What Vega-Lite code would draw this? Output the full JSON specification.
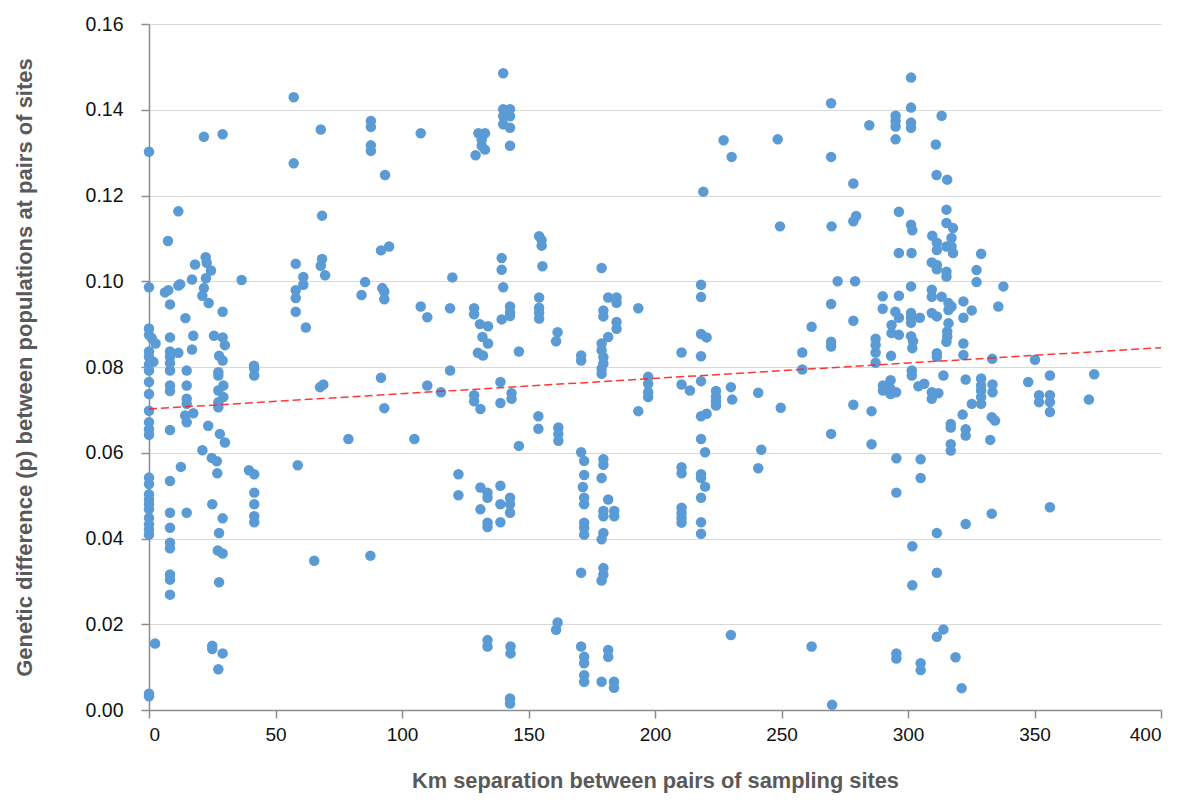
{
  "$schema": "https://vega.github.io/schema/vega-lite/v6.json",
  "width": 1012,
  "height": 686,
  "autosize": {"type": "none"},
  "padding": {"left": 149, "top": 24, "right": 21, "bottom": 92},
  "background": "white",
  "config": {"view": {"stroke": null}},
  "datasets": {
    "trend": [{"km": 0, "p": 0.0702}, {"km": 400, "p": 0.0845}],
    "pts": [
      {"km":0,"p":0.1302},{"km":21.7,"p":0.1337},{"km":29.1,"p":0.1343},{"km":57.2,"p":0.1429},{"km":57.2,"p":0.1275},{"km":67.9,"p":0.1354},{"km":87.7,"p":0.1374},{"km":87.7,"p":0.136},{"km":87.7,"p":0.1317},{"km":87.7,"p":0.1304},{"km":93.3,"p":0.1248},{"km":11.6,"p":0.1163},{"km":7.5,"p":0.1094},{"km":68.4,"p":0.1153},{"km":22.4,"p":0.1056},{"km":22.8,"p":0.1043},{"km":24.5,"p":0.1025},{"km":22.5,"p":0.1007},{"km":18.2,"p":0.1039},{"km":17,"p":0.1004},{"km":21.7,"p":0.0984},{"km":21.1,"p":0.0966},{"km":23.6,"p":0.0949},{"km":29.1,"p":0.0929},{"km":36.6,"p":0.1003},{"km":0,"p":0.0986},{"km":6.3,"p":0.0974},{"km":7.6,"p":0.0979},{"km":11.6,"p":0.099},{"km":12.3,"p":0.0993},{"km":8.3,"p":0.0946},{"km":14.4,"p":0.0914},{"km":0,"p":0.089},{"km":0,"p":0.0875},{"km":1.1,"p":0.0867},{"km":2.6,"p":0.0855},{"km":8.3,"p":0.0869},{"km":17.5,"p":0.0873},{"km":25.7,"p":0.0873},{"km":29.1,"p":0.0869},{"km":30,"p":0.0851},{"km":0,"p":0.0836},{"km":0,"p":0.0824},{"km":1.7,"p":0.0812},{"km":8.3,"p":0.0836},{"km":8.3,"p":0.0824},{"km":8.3,"p":0.0809},{"km":11.6,"p":0.0833},{"km":17,"p":0.0841},{"km":27.7,"p":0.0826},{"km":29.1,"p":0.0815},{"km":41.5,"p":0.0803},
      {"km":58,"p":0.1041},{"km":61,"p":0.101},{"km":61,"p":0.0992},{"km":58,"p":0.0979},{"km":58,"p":0.0961},{"km":58,"p":0.0929},{"km":62,"p":0.0892},{"km":68.4,"p":0.1052},{"km":67.9,"p":0.1036},{"km":69.6,"p":0.1014},{"km":85.4,"p":0.0998},{"km":84,"p":0.0968},{"km":91.7,"p":0.1072},{"km":94.9,"p":0.1081},{"km":92.2,"p":0.0984},{"km":93,"p":0.0976},{"km":93,"p":0.0958},
      {"km":0,"p":0.0806},{"km":0,"p":0.0792},{"km":0,"p":0.0765},{"km":0,"p":0.0737},{"km":0,"p":0.0698},{"km":0,"p":0.0671},{"km":0,"p":0.0655},{"km":0,"p":0.0642},
      {"km":8.3,"p":0.0792},{"km":8.3,"p":0.0757},{"km":8.3,"p":0.0744},{"km":8.3,"p":0.0653},
      {"km":14.9,"p":0.0792},{"km":14.9,"p":0.0757},{"km":14.9,"p":0.0726},{"km":14.9,"p":0.0714},{"km":14.3,"p":0.0687},{"km":17.5,"p":0.0692},{"km":14.9,"p":0.0671},
      {"km":27.4,"p":0.0788},{"km":27.4,"p":0.078},{"km":29.4,"p":0.0757},{"km":27.4,"p":0.0745},{"km":29.4,"p":0.073},{"km":27.4,"p":0.0718},{"km":27.4,"p":0.0706},
      {"km":23.4,"p":0.0663},{"km":28,"p":0.0644},{"km":30,"p":0.0624},{"km":21.1,"p":0.0606},{"km":24.8,"p":0.0588},{"km":26.8,"p":0.058},{"km":27,"p":0.0552},{"km":12.6,"p":0.0567},{"km":8.3,"p":0.0534},
      {"km":0,"p":0.0542},{"km":0,"p":0.0527},{"km":0,"p":0.0503},{"km":0,"p":0.0491},{"km":0,"p":0.048},{"km":0,"p":0.0468},{"km":0,"p":0.0448},{"km":0,"p":0.0433},{"km":0,"p":0.0421},{"km":0,"p":0.0409},
      {"km":8.3,"p":0.046},{"km":8.3,"p":0.0425},{"km":14.9,"p":0.046},{"km":25,"p":0.048},{"km":29.1,"p":0.0447},{"km":27.7,"p":0.0413},{"km":8.3,"p":0.039},{"km":8.3,"p":0.0377},{"km":27.2,"p":0.0372},{"km":29.1,"p":0.0365},
      {"km":8.3,"p":0.0316},{"km":8.3,"p":0.0304},{"km":8.3,"p":0.0269},{"km":27.7,"p":0.0298},{"km":2.4,"p":0.0155},{"km":25,"p":0.015},{"km":25,"p":0.0142},{"km":29.1,"p":0.0132},{"km":27.4,"p":0.0095},{"km":0,"p":0.0038},{"km":0,"p":0.0032},
      {"km":41.6,"p":0.0796},{"km":41.6,"p":0.078},{"km":39.5,"p":0.0559},{"km":41.6,"p":0.055},{"km":41.6,"p":0.0507},{"km":41.6,"p":0.048},{"km":41.6,"p":0.0452},{"km":41.6,"p":0.0438},
      {"km":58.8,"p":0.0571},{"km":65.3,"p":0.0348},{"km":67.6,"p":0.0753},{"km":68.9,"p":0.0759},{"km":78.8,"p":0.0632},{"km":87.5,"p":0.036},{"km":91.7,"p":0.0775},{"km":93,"p":0.0704},
      {"km":140,"p":0.1485},{"km":107.4,"p":0.1345},
      {"km":130.2,"p":0.1345},{"km":132.8,"p":0.1345},{"km":131.5,"p":0.133},{"km":131.5,"p":0.1316},{"km":132.8,"p":0.1307},{"km":129.1,"p":0.1294},
      {"km":140,"p":0.1401},{"km":142.7,"p":0.1401},{"km":140,"p":0.1385},{"km":142.7,"p":0.1385},{"km":140,"p":0.1366},{"km":142.7,"p":0.1358},{"km":142.7,"p":0.1316},
      {"km":154.2,"p":0.1105},{"km":155.2,"p":0.1096},{"km":155.2,"p":0.1083},{"km":155.5,"p":0.1035},{"km":178.9,"p":0.1031},{"km":139.4,"p":0.1054},{"km":139.4,"p":0.1027},{"km":140,"p":0.0986},{"km":119.9,"p":0.1009},
      {"km":107.4,"p":0.0941},{"km":110,"p":0.0916},{"km":119,"p":0.0937},{"km":128.5,"p":0.0937},{"km":128.5,"p":0.0923},
      {"km":130.8,"p":0.09},{"km":134,"p":0.0895},{"km":131.8,"p":0.087},{"km":134,"p":0.0855},{"km":130,"p":0.0833},{"km":132,"p":0.0827},
      {"km":142.7,"p":0.0941},{"km":142.7,"p":0.0927},{"km":139.4,"p":0.0911},{"km":142.7,"p":0.0919},
      {"km":154.2,"p":0.0962},{"km":154.2,"p":0.0938},{"km":154.2,"p":0.0927},{"km":154.2,"p":0.0913},
      {"km":161.5,"p":0.0881},{"km":160.9,"p":0.086},{"km":146.2,"p":0.0836},{"km":170.8,"p":0.0827},{"km":170.8,"p":0.0815},
      {"km":178.9,"p":0.0855},{"km":178.9,"p":0.0839},{"km":179.6,"p":0.0823},{"km":179.6,"p":0.0808},
      {"km":181.5,"p":0.0962},{"km":184.8,"p":0.0962},{"km":184.8,"p":0.095},{"km":179.6,"p":0.0932},{"km":179.6,"p":0.0918},{"km":184.8,"p":0.0905},{"km":184.8,"p":0.0889},{"km":181.5,"p":0.087},
      {"km":193.4,"p":0.0937},{"km":119,"p":0.0792},
      {"km":110,"p":0.0757},{"km":115.4,"p":0.0741},{"km":104.9,"p":0.0632},{"km":128.5,"p":0.0734},{"km":128.5,"p":0.072},{"km":131,"p":0.0702},{"km":138.9,"p":0.0765},{"km":138.9,"p":0.0716},{"km":143.3,"p":0.0739},{"km":143.3,"p":0.0726},{"km":146.2,"p":0.0616},{"km":153.9,"p":0.0685},{"km":153.9,"p":0.0656},{"km":161.8,"p":0.0659},{"km":161.8,"p":0.0644},{"km":161.8,"p":0.0628},
      {"km":170.8,"p":0.0601},{"km":172,"p":0.0581},{"km":172,"p":0.0548},{"km":171.5,"p":0.052},{"km":172,"p":0.0495},{"km":172,"p":0.048},{"km":172,"p":0.0437},{"km":172,"p":0.0425},{"km":172,"p":0.0409},
      {"km":178.9,"p":0.0796},{"km":178.9,"p":0.0784},
      {"km":179.6,"p":0.0585},{"km":179.6,"p":0.0572},{"km":178.9,"p":0.0541},{"km":181.5,"p":0.0491},{"km":179.6,"p":0.0464},{"km":179.6,"p":0.0452},{"km":183.9,"p":0.0464},{"km":183.9,"p":0.0452},{"km":179.6,"p":0.0413},{"km":178.9,"p":0.0398},
      {"km":170.8,"p":0.032},{"km":179.6,"p":0.0331},{"km":179.6,"p":0.0316},{"km":178.9,"p":0.0302},
      {"km":161.5,"p":0.0204},{"km":160.9,"p":0.0187},
      {"km":170.8,"p":0.0148},{"km":172,"p":0.0124},{"km":172,"p":0.0109},{"km":172,"p":0.0081},{"km":172,"p":0.0066},
      {"km":181.5,"p":0.014},{"km":181.5,"p":0.0124},{"km":178.9,"p":0.0066},{"km":183.8,"p":0.0066},{"km":183.8,"p":0.0052},
      {"km":197.3,"p":0.0777},{"km":197.3,"p":0.0761},{"km":197.3,"p":0.0741},{"km":197.3,"p":0.073},{"km":193.4,"p":0.0697},
      {"km":122.3,"p":0.055},{"km":122.3,"p":0.0501},
      {"km":131,"p":0.0519},{"km":133.8,"p":0.0507},{"km":133.8,"p":0.0495},{"km":131,"p":0.0468},{"km":138.9,"p":0.0523},{"km":142.7,"p":0.0495},{"km":142.7,"p":0.048},{"km":142.7,"p":0.046},{"km":138.9,"p":0.048},{"km":133.8,"p":0.0437},{"km":133.8,"p":0.0427},{"km":138.9,"p":0.0438},
      {"km":133.8,"p":0.0163},{"km":133.8,"p":0.0148},{"km":142.9,"p":0.0148},{"km":142.9,"p":0.0132},{"km":142.7,"p":0.0027},{"km":142.7,"p":0.0015},
      {"km":269.6,"p":0.1415},{"km":284.7,"p":0.1364},{"km":295.1,"p":0.1386},{"km":295.1,"p":0.1374},{"km":295.1,"p":0.1361},{"km":295.1,"p":0.1331},{"km":227.1,"p":0.1329},{"km":248.5,"p":0.1331},{"km":230.3,"p":0.129},{"km":269.6,"p":0.129},{"km":278.4,"p":0.1228},{"km":219.1,"p":0.1209},{"km":296.4,"p":0.1162},{"km":249.4,"p":0.1128},{"km":269.8,"p":0.1128},{"km":278.4,"p":0.114},{"km":279.5,"p":0.1152},{"km":296.4,"p":0.1066},{"km":218.2,"p":0.0992},{"km":218.2,"p":0.0963},{"km":272.2,"p":0.1},{"km":279.1,"p":0.1},{"km":269.6,"p":0.0947},{"km":261.9,"p":0.0894},{"km":278.4,"p":0.0908},{"km":218.2,"p":0.0877},{"km":220.4,"p":0.0869},{"km":210.5,"p":0.0834},{"km":218.2,"p":0.0825},{"km":258.2,"p":0.0834},{"km":269.6,"p":0.0859},{"km":269.6,"p":0.0848},{"km":287.2,"p":0.0866},{"km":287.2,"p":0.0851},{"km":287.2,"p":0.0834},{"km":287.2,"p":0.081},{"km":293.3,"p":0.0826},{"km":290,"p":0.0965},{"km":290,"p":0.0936},{"km":296.4,"p":0.0966},{"km":295,"p":0.0929},{"km":296.4,"p":0.0915},{"km":293.5,"p":0.0898},{"km":293.5,"p":0.0879},{"km":296.4,"p":0.0875},{"km":258.2,"p":0.0794},
      {"km":210.5,"p":0.0759},{"km":213.8,"p":0.0745},{"km":218.2,"p":0.0767},{"km":224.1,"p":0.0744},{"km":224.1,"p":0.0731},{"km":224.1,"p":0.072},{"km":224.1,"p":0.071},{"km":230,"p":0.0753},{"km":230.5,"p":0.0724},{"km":218.2,"p":0.0685},{"km":220.4,"p":0.0691},{"km":218.2,"p":0.0632},{"km":219.8,"p":0.0601},{"km":240.8,"p":0.074},{"km":249.7,"p":0.0705},{"km":242,"p":0.0607},{"km":240.8,"p":0.0564},
      {"km":210.5,"p":0.0566},{"km":210.5,"p":0.0552},{"km":218.2,"p":0.055},{"km":218.2,"p":0.0541},{"km":219.8,"p":0.0521},{"km":218.2,"p":0.0495},{"km":210.5,"p":0.0472},{"km":210.5,"p":0.046},{"km":210.5,"p":0.0448},{"km":210.5,"p":0.0437},{"km":218.2,"p":0.0438},{"km":218.2,"p":0.0411},
      {"km":230,"p":0.0175},{"km":261.9,"p":0.0148},{"km":270,"p":0.0012},{"km":269.6,"p":0.0644},{"km":278.4,"p":0.0712},{"km":285.6,"p":0.0697},{"km":285.6,"p":0.062},
      {"km":290.1,"p":0.0757},{"km":293.1,"p":0.0769},{"km":293.1,"p":0.0749},{"km":295.3,"p":0.0741},{"km":290.1,"p":0.0745},{"km":293.1,"p":0.0737},
      {"km":295.4,"p":0.0587},{"km":295.4,"p":0.0507},{"km":295.4,"p":0.0132},{"km":295.4,"p":0.012},
      {"km":301.2,"p":0.1475},{"km":301.2,"p":0.1405},{"km":301.2,"p":0.137},{"km":301.2,"p":0.1358},{"km":313.3,"p":0.1386},{"km":311,"p":0.1319},{"km":311.3,"p":0.1248},{"km":315.5,"p":0.1237},{"km":301.2,"p":0.1132},{"km":301.7,"p":0.1119},
      {"km":315.2,"p":0.1167},{"km":315.2,"p":0.1136},{"km":317.8,"p":0.1124},{"km":317.2,"p":0.1101},{"km":317.2,"p":0.1081},{"km":317.8,"p":0.1066},{"km":315.2,"p":0.1081},
      {"km":309.6,"p":0.1106},{"km":311.4,"p":0.109},{"km":311.4,"p":0.1073},{"km":301.4,"p":0.1066},{"km":309.4,"p":0.1044},{"km":311.4,"p":0.1038},{"km":311.4,"p":0.1028},{"km":315.2,"p":0.1022},{"km":315.2,"p":0.1011},
      {"km":328.9,"p":0.1064},{"km":327.1,"p":0.1026},{"km":327.1,"p":0.0998},{"km":301.2,"p":0.0988},{"km":337.7,"p":0.0988},
      {"km":301.2,"p":0.0926},{"km":301.2,"p":0.0915},{"km":301.2,"p":0.0903},{"km":304.7,"p":0.0915},{"km":301.2,"p":0.0872},{"km":302,"p":0.086},{"km":301.7,"p":0.0844},
      {"km":309.4,"p":0.098},{"km":309.4,"p":0.0964},{"km":313.3,"p":0.0964},{"km":309.4,"p":0.0926},{"km":311.4,"p":0.0918},{"km":316,"p":0.0949},{"km":317.2,"p":0.0941},{"km":316,"p":0.0933},{"km":316,"p":0.0902},{"km":315.5,"p":0.0883},{"km":315.5,"p":0.0871},{"km":315.2,"p":0.0859},{"km":321.9,"p":0.0953},{"km":321.9,"p":0.0915},{"km":325.2,"p":0.0932},{"km":321.9,"p":0.0855},{"km":321.9,"p":0.0828},{"km":311.4,"p":0.0832},{"km":311.4,"p":0.0824},
      {"km":335.7,"p":0.0941},{"km":333.3,"p":0.0819},{"km":350.2,"p":0.0817},
      {"km":301.5,"p":0.0792},{"km":301.5,"p":0.078},{"km":304.1,"p":0.0755},{"km":306.4,"p":0.0761},{"km":314,"p":0.078},{"km":309.4,"p":0.0741},{"km":312,"p":0.0739},{"km":309.4,"p":0.0726},{"km":322.8,"p":0.0771},{"km":328.9,"p":0.0773},{"km":328.9,"p":0.0757},{"km":328.9,"p":0.0745},{"km":333.4,"p":0.0759},{"km":333.4,"p":0.0741},{"km":325.2,"p":0.0714},{"km":328.9,"p":0.0714},{"km":328.9,"p":0.073},{"km":347.5,"p":0.0765},{"km":356.1,"p":0.078},{"km":373.6,"p":0.0783},{"km":351.8,"p":0.0734},{"km":351.8,"p":0.0718},{"km":356.1,"p":0.0734},{"km":356.1,"p":0.0718},{"km":356.1,"p":0.0695},{"km":371.5,"p":0.0724},{"km":321.6,"p":0.0689},{"km":333.1,"p":0.0683},{"km":334.4,"p":0.0675},{"km":316.9,"p":0.0667},{"km":316.9,"p":0.0659},{"km":322.8,"p":0.0655},{"km":322.8,"p":0.064},{"km":332.5,"p":0.063},{"km":316.9,"p":0.062},{"km":316.9,"p":0.0605},
      {"km":305,"p":0.0585},{"km":305,"p":0.0541},{"km":356.1,"p":0.0473},{"km":333.1,"p":0.0458},{"km":322.8,"p":0.0434},{"km":311.4,"p":0.0413},{"km":301.7,"p":0.0382},{"km":311.4,"p":0.032},{"km":301.7,"p":0.0291},{"km":311.4,"p":0.0171},{"km":314,"p":0.0188},{"km":305,"p":0.0109},{"km":305,"p":0.0093},{"km":318.8,"p":0.0123},{"km":321.2,"p":0.0051}
    ]
  },
  "layer": [
    {
      "data": {"name": "pts"},
      "mark": {"type": "circle", "size": 110, "color": "#5B9BD5", "opacity": 1},
      "encoding": {
        "x": {
          "field": "km", "type": "quantitative",
          "scale": {"domain": [0, 400], "nice": false, "zero": true},
          "axis": {
            "values": [0, 50, 100, 150, 200, 250, 300, 350, 400],
            "grid": false,
            "domainColor": "#8c8c8c", "domainWidth": 1.5,
            "tickColor": "#8c8c8c", "tickSize": 8, "tickWidth": 1.5,
            "labelFont": "Liberation Sans", "labelFontSize": 19, "labelColor": "#111111", "labelPadding": 7,
            "title": "Km separation between pairs of sampling sites",
            "titleFont": "Liberation Sans", "titleFontSize": 21.8, "titleFontWeight": "bold", "titleColor": "#595959",
            "titlePadding": 26
          }
        },
        "y": {
          "field": "p", "type": "quantitative",
          "scale": {"domain": [0, 0.16], "nice": false},
          "axis": {
            "values": [0, 0.02, 0.04, 0.06, 0.08, 0.1, 0.12, 0.14, 0.16],
            "format": ".2f",
            "grid": true, "gridColor": "#d9d9d9", "gridWidth": 1.2,
            "domainColor": "#8c8c8c", "domainWidth": 1.5,
            "tickColor": "#8c8c8c", "tickSize": 8, "tickWidth": 1.5,
            "labelFont": "Liberation Sans", "labelFontSize": 19.5, "labelColor": "#111111", "labelPadding": 18,
            "title": "Genetic difference (p) between populations at pairs of sites",
            "titleFont": "Liberation Sans", "titleFontSize": 22, "titleFontWeight": "bold", "titleColor": "#595959",
            "titlePadding": 49
          }
        }
      }
    },
    {
      "data": {"name": "trend"},
      "mark": {"type": "line", "color": "#ff2020", "strokeWidth": 1.5, "strokeDash": [8, 4], "opacity": 0.9},
      "encoding": {
        "x": {"field": "km", "type": "quantitative"},
        "y": {"field": "p", "type": "quantitative"}
      }
    }
  ]
}
